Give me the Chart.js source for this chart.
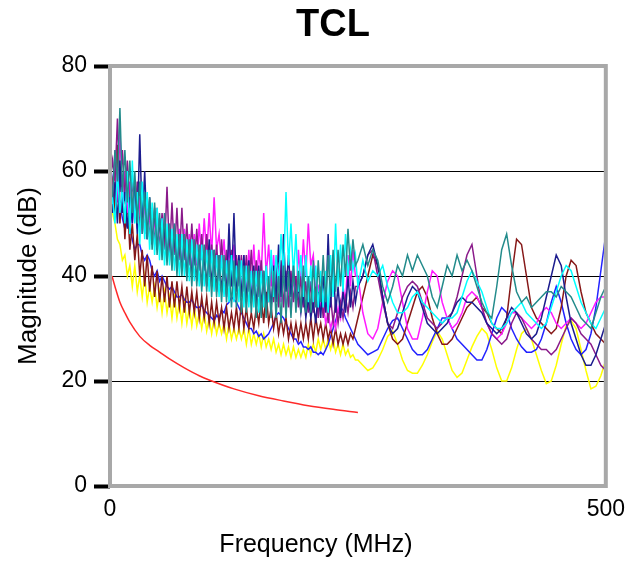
<!DOCTYPE html>
<html>
<head>
<meta charset="utf-8">
<title>TCL</title>
<script src="https://cdn.jsdelivr.net/npm/chart.js@4.4.1/dist/chart.umd.min.js"></script>
<style>
  html, body { margin: 0; padding: 0; background: #fff; }
  canvas { display: block; }
</style>
</head>
<body>
<canvas id="chart" width="635" height="561"></canvas>
<script>
// ── Textes ────────────────────────────────────────────────────────────────────
const TITLE   = 'TCL';
const X_TITLE = 'Frequency (MHz)';
const Y_TITLE = 'Magnitude (dB)';

// ── Axes ──────────────────────────────────────────────────────────────────────
const X_TICKS = [0, 500];
const Y_TICKS = [0, 20, 40, 60, 80];
const Y_GRID  = [20, 40, 60];

// ── Fréquences (MHz) : pas de 2,5 jusqu'à 247,5 puis pas de 5 ────────────────
const freqs = [
  0, 2.5, 5, 7.5, 10, 12.5, 15, 17.5, 20, 22.5, 25, 27.5, 30, 32.5, 35, 37.5, 40, 42.5, 45, 47.5,
  50, 52.5, 55, 57.5, 60, 62.5, 65, 67.5, 70, 72.5, 75, 77.5, 80, 82.5, 85, 87.5, 90, 92.5, 95, 97.5,
  100, 102.5, 105, 107.5, 110, 112.5, 115, 117.5, 120, 122.5, 125, 127.5, 130, 132.5, 135, 137.5, 140, 142.5, 145, 147.5,
  150, 152.5, 155, 157.5, 160, 162.5, 165, 167.5, 170, 172.5, 175, 177.5, 180, 182.5, 185, 187.5, 190, 192.5, 195, 197.5,
  200, 202.5, 205, 207.5, 210, 212.5, 215, 217.5, 220, 222.5, 225, 227.5, 230, 232.5, 235, 237.5, 240, 242.5, 245, 247.5,
  250, 255, 260, 265, 270, 275, 280, 285, 290, 295,
  300, 305, 310, 315, 320, 325, 330, 335, 340, 345,
  350, 355, 360, 365, 370, 375, 380, 385, 390, 395,
  400, 405, 410, 415, 420, 425, 430, 435, 440, 445,
  450, 455, 460, 465, 470, 475, 480, 485, 490, 495,
  500,
];

// ── Mesures (dB) ──────────────────────────────────────────────────────────────
const teal = [
  60, 55, 64, 58, 72, 56, 64, 54, 62, 52, 60, 50, 58, 48, 56, 47, 55, 45, 54, 44,
  52, 43, 52, 42, 50, 41, 50, 40, 48, 40, 48, 39, 47, 38, 47, 38, 46, 37, 46, 37,
  45, 36, 45, 36, 44, 35, 44, 35, 43, 34, 43, 34, 43, 33, 42, 33, 42, 33, 41, 32,
  41, 32, 41, 32, 40, 32, 41, 32, 40, 31, 42, 32, 41, 32, 42, 33, 41, 33, 42, 33,
  40, 33, 43, 34, 43, 35, 44, 35, 44, 36, 45, 37, 45, 38, 46, 40, 49, 41, 47, 42,
  43, 46, 42, 45, 43, 38, 35, 38, 42, 40,
  44, 41, 44, 42, 40, 36, 34, 38, 42, 40,
  44, 41, 43, 41, 38, 35, 33, 32, 38, 45,
  48, 42, 37, 35, 36, 34, 35, 36, 37, 37,
  36, 38, 37, 36, 34, 32, 31, 30, 33, 36,
  38,
];

const cyan = [
  52, 55, 50, 60, 52, 57, 50, 60, 48, 62, 50, 56, 46, 58, 47, 56, 45, 54, 44, 53,
  43, 51, 42, 50, 42, 49, 41, 48, 40, 48, 40, 47, 39, 47, 39, 46, 38, 46, 38, 45,
  37, 45, 37, 44, 36, 44, 36, 43, 35, 44, 35, 42, 35, 43, 34, 42, 34, 41, 34, 41,
  33, 41, 34, 42, 35, 45, 36, 44, 38, 48, 40, 56, 42, 50, 40, 48, 37, 44, 36, 44,
  35, 42, 35, 42, 34, 41, 34, 41, 33, 44, 36, 50, 38, 46, 37, 48, 40, 45, 41, 44,
  38, 43, 39, 41, 40, 42, 38, 35, 33, 33,
  34, 36, 37, 35, 34, 33, 32, 31, 32, 32,
  33, 36, 39, 41, 39, 37, 34, 31, 30, 30,
  31, 33, 34, 35, 33, 32, 31, 30, 31, 34,
  37, 40, 42, 41, 38, 35, 33, 31, 30, 32,
  34,
];

const navy = [
  60, 52, 58, 50, 62, 52, 56, 49, 55, 50, 58, 48, 67, 50, 60, 47, 55, 46, 53, 45,
  51, 44, 50, 43, 49, 42, 48, 42, 47, 41, 47, 40, 46, 40, 45, 39, 45, 38, 44, 38,
  47, 38, 45, 37, 44, 37, 43, 36, 50, 38, 52, 37, 44, 36, 44, 35, 43, 35, 42, 34,
  42, 34, 41, 34, 40, 34, 42, 35, 46, 36, 48, 37, 44, 36, 42, 35, 38, 33, 37, 32,
  36, 32, 35, 31, 37, 32, 40, 33, 48, 34, 44, 33, 38, 32, 37, 33, 40, 34, 39, 35,
  38, 40, 44, 46, 42, 36, 31, 29, 30, 33,
  36, 38, 37, 34, 31, 30, 29, 30, 31, 33,
  35, 36, 35, 35, 34, 33, 31, 30, 29, 30,
  32, 34, 33, 31, 29, 28, 29, 32, 36, 40,
  44, 42, 36, 31, 28, 25, 23, 23, 25, 28,
  31,
];

const purple = [
  58, 62, 58, 70, 56, 64, 55, 62, 53, 58, 51, 58, 49, 55, 48, 55, 47, 53, 46, 53,
  45, 52, 45, 57, 44, 54, 44, 53, 43, 53, 43, 50, 42, 50, 42, 49, 41, 48, 41, 48,
  40, 46, 40, 46, 39, 47, 39, 45, 38, 45, 38, 44, 38, 44, 37, 44, 37, 45, 36, 43,
  36, 43, 36, 42, 35, 43, 35, 42, 34, 43, 34, 41, 34, 41, 35, 40, 34, 40, 34, 39,
  33, 39, 33, 38, 32, 38, 32, 37, 31, 36, 31, 35, 31, 35, 32, 36, 33, 37, 34, 38,
  38, 40, 44, 45, 40, 35, 31, 30, 33, 36,
  38, 39, 38, 35, 32, 31, 30, 31, 32, 33,
  36, 40, 44, 46, 40, 34, 31, 29, 28, 27,
  28, 31, 33, 32, 30, 28, 27, 26, 26, 25,
  26, 28, 30, 32, 31, 29, 28, 27, 25, 23,
  22,
];

const magenta = [
  58, 55, 64, 54, 68, 53, 60, 52, 58, 50, 56, 49, 55, 48, 54, 47, 52, 46, 51, 45,
  51, 44, 52, 43, 50, 43, 50, 42, 49, 42, 49, 41, 48, 41, 48, 42, 50, 43, 51, 44,
  52, 44, 55, 45, 48, 42, 47, 39, 46, 38, 46, 37, 44, 37, 44, 36, 45, 37, 46, 38,
  45, 40, 52, 40, 46, 38, 44, 36, 42, 35, 40, 34, 38, 33, 40, 35, 45, 38, 47, 40,
  50, 42, 44, 37, 38, 34, 35, 31, 33, 30, 32, 30, 34, 32, 38, 35, 44, 38, 45, 40,
  40, 33, 29, 28, 30, 35, 39, 41, 40, 35,
  30, 28, 28, 32, 37, 41, 40, 35, 32, 30,
  31, 33, 36, 37, 36, 34, 31, 29, 28, 29,
  31, 33, 33, 32, 31, 30, 31, 33, 34, 33,
  31, 30, 31, 32, 31, 30, 31, 33, 35, 36,
  36,
];

const maroon = [
  55, 58, 52, 65, 50, 58, 47, 55, 45, 50, 43, 48, 40, 45, 38, 44, 37, 42, 36, 41,
  35, 40, 35, 40, 34, 39, 34, 39, 34, 38, 33, 38, 33, 37, 33, 37, 32, 36, 32, 36,
  31, 35, 31, 35, 31, 34, 30, 34, 30, 33, 30, 34, 30, 35, 30, 34, 30, 33, 30, 34,
  31, 36, 31, 37, 31, 34, 30, 33, 29, 32, 29, 32, 28, 31, 28, 31, 28, 31, 28, 31,
  28, 32, 28, 32, 29, 31, 28, 31, 28, 30, 27, 30, 27, 29, 27, 29, 27, 29, 28, 30,
  32, 36, 40, 44, 42, 36, 31, 28, 27, 28,
  31, 34, 37, 38, 36, 32, 29, 27, 27, 28,
  30, 32, 34, 35, 36, 34, 33, 31, 30, 29,
  32, 40, 47, 46, 40, 34, 32, 31, 30, 29,
  30, 34, 40, 43, 42, 37, 33, 31, 29, 28,
  27,
];

const blue = [
  62, 58, 55, 56, 54, 51, 49, 50, 49, 47, 45, 46, 46, 44, 43, 44, 43, 41, 40, 41,
  39, 40, 39, 38, 37.5, 38, 37, 36, 36, 36.5, 35.5, 35, 35, 35.5, 34.5, 34, 34, 34.5, 33.5, 33,
  32.5, 32, 31.5, 32.5, 32, 33.5, 33, 34.5, 35, 36, 35.5, 35, 34, 33, 32, 31, 30, 30, 29, 29.5,
  28.5, 29, 28, 28.5, 29, 30, 31, 32.5, 33, 32.5, 32, 31, 30, 29, 28, 28, 27, 27.5, 26.5, 26.5,
  26, 26.5, 25.5, 25.5, 25, 25.5, 25, 26, 27, 28.5, 30, 31.5, 33, 34, 33.5, 32, 31, 30, 29, 28,
  27, 26, 25, 25.5, 26, 28, 30, 31.5, 32, 30,
  28, 26, 25, 25, 26, 28, 30, 32, 32, 30,
  28, 27, 26, 25, 24, 24, 26, 29, 32, 34,
  33, 30, 28, 26.5, 25.5, 25.5, 26, 28, 31, 35,
  38, 35, 31, 28, 26, 25, 26, 29, 34, 41,
  48,
];

const yellow = [
  56, 52, 50, 47, 46, 43, 44, 40, 42, 38, 42, 37, 40, 36, 40, 35, 38, 35, 38, 34,
  37, 33, 37, 33, 36, 32, 36, 32, 35, 31, 35, 31, 34, 30.5, 34, 30.5, 33, 30, 33, 29.5,
  32, 29, 32, 29, 31, 29, 31, 28, 31, 28, 30, 28, 30, 28, 30, 27, 30, 27, 29, 27,
  29, 26.5, 29, 26.5, 28, 26, 28, 25.5, 27, 25, 27, 25, 26.5, 24.5, 26.5, 24.5, 26, 24.5, 26, 24.5,
  27, 25, 27, 25.5, 28, 26, 28, 26, 28, 26, 28, 25.5, 27, 25, 27, 25, 26, 24.5, 25, 24,
  24, 23, 22, 22.5, 24, 26, 28.5, 29.5, 27, 24,
  22, 21.5, 21.5, 23, 25, 27.5, 29.5, 28, 25, 22,
  20.7, 21.5, 24, 26.5, 28.5, 30, 29, 26, 22.5, 20,
  20, 22.5, 26, 29, 30, 28, 25, 22, 19.5, 20,
  23, 27, 30.5, 31.5, 30, 26, 22, 18.5, 19, 21,
  24,
];

// ── Limite (courbe rouge) ─────────────────────────────────────────────────────
const limitFreqs = [2, 5, 10, 15, 20, 30, 40, 50, 60, 75, 90, 100, 125, 150, 175, 200, 225, 250];
const limitVals  = [40, 38, 35, 33, 31.2, 28.5, 26.8, 25.5, 24.2, 22.5, 21, 20.2, 18.5, 17.2, 16.2, 15.3, 14.6, 14];

// ── Helpers ───────────────────────────────────────────────────────────────────
const FONT = '"Liberation Sans", Arial, sans-serif';
const toPoints = (xs, ys) => xs.map((x, i) => ({ x, y: ys[i] }));

function trace(data, color) {
  return {
    data: toPoints(freqs, data),
    borderColor: color,
    borderWidth: 1.5,
    pointRadius: 0,
    tension: 0,
    fill: false,
  };
}

// Cadre gris + titre + titre de l'axe X, dessinés après le reste
const frameAndTitles = {
  id: 'frameAndTitles',
  afterDraw(chart) {
    const { ctx, chartArea: a } = chart;
    const cx = (a.left + a.right) / 2;
    ctx.save();
    ctx.strokeStyle = '#a8a8a8';
    ctx.lineWidth = 4;
    ctx.strokeRect(a.left, a.top, a.right - a.left, a.bottom - a.top);
    ctx.fillStyle = '#000';
    ctx.textAlign = 'center';
    ctx.textBaseline = 'middle';
    ctx.font = 'bold 38px ' + FONT;
    ctx.fillText(TITLE, cx - 25, a.top - 40);
    ctx.font = '25px ' + FONT;
    ctx.fillText(X_TITLE, cx - 42, a.bottom + 59);
    ctx.restore();
  },
};

new Chart(document.getElementById('chart'), {
  type: 'line',
  data: {
    datasets: [
      {
        data: toPoints(limitFreqs, limitVals),
        borderColor: '#ff2a2a',
        borderWidth: 1.5,
        pointRadius: 0,
        tension: 0.4,
        cubicInterpolationMode: 'monotone',
        fill: false,
      },
      trace(teal, '#238b8b'),
      trace(cyan, '#00ffff'),
      trace(navy, '#1c1c8e'),
      trace(purple, '#8a1a8a'),
      trace(magenta, '#ff1aff'),
      trace(maroon, '#861818'),
      trace(blue, '#2222ff'),
      trace(yellow, '#ffff00'),
    ],
  },
  options: {
    responsive: false,
    animation: false,
    layout: { padding: { top: 66, right: 25, bottom: 0, left: 0 } },
    plugins: {
      legend: { display: false },
      tooltip: { enabled: false },
      title: { display: false },
    },
    scales: {
      x: {
        type: 'linear',
        min: 0,
        max: 500,
        afterFit: (s) => { s.height = 75; },
        afterBuildTicks: (s) => { s.ticks = X_TICKS.map((v) => ({ value: v })); },
        grid: { display: false, drawTicks: false },
        border: { display: false },
        ticks: {
          color: '#000',
          padding: 10,
          maxRotation: 0,
          font: { family: FONT, size: 23 },
        },
      },
      y: {
        min: 0,
        max: 80,
        afterFit: (s) => { s.width = 110; },
        afterBuildTicks: (s) => { s.ticks = Y_TICKS.map((v) => ({ value: v })); },
        grid: {
          color: (c) => (Y_GRID.includes(c.tick && c.tick.value) ? '#000' : 'rgba(0,0,0,0)'),
          lineWidth: 1,
          drawTicks: true,
          tickLength: 16,
          tickColor: '#000',
          tickWidth: 4,
        },
        border: { display: false },
        ticks: {
          color: '#000',
          padding: 7,
          font: { family: FONT, size: 23 },
        },
        title: {
          display: true,
          text: Y_TITLE,
          color: '#000',
          padding: { top: 13, bottom: 0 },
          font: { family: FONT, size: 26 },
        },
      },
    },
  },
  plugins: [frameAndTitles],
});
</script>
</body>
</html>
